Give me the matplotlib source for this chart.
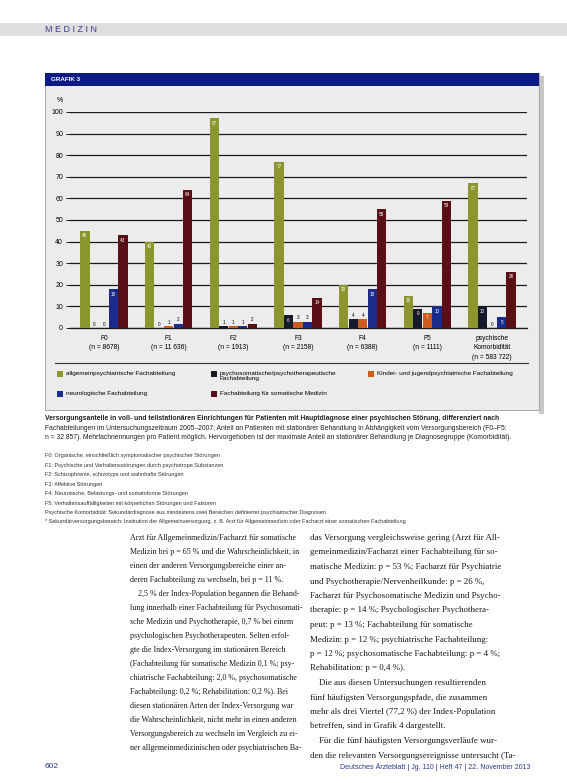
import matplotlib
matplotlib.use('Agg')
import matplotlib.pyplot as plt
import numpy as np
from matplotlib.patches import Rectangle

# Data
groups = ['F0\n(n = 8678)', 'F1\n(n = 11 636)', 'F2\n(n = 1913)', 'F3\n(n = 2158)',
          'F4\n(n = 6388)', 'F5\n(n = 1111)', 'psychische\nKomorbidität\n(n = 583 722)']
series_names = ['allgemeinpsychiatrische Fachabteilung',
                'psychosomatische/psychotherapeutische\nFachabteilung',
                'Kinder- und jugendpsychiatrische Fachabteilung',
                'neurologische Fachabteilung',
                'Fachabteilung für somatische Medizin']
allgemein = [45, 40, 97, 77, 20, 15, 67]
psychosom = [0, 0, 1, 6, 4, 9, 10]
kinder = [0, 1, 1, 3, 4, 7, 0]
neuro = [18, 2, 1, 3, 18, 10, 5]
somatisch = [43, 64, 2, 14, 55, 59, 26]
yticks = [0, 10, 20, 30, 40, 50, 60, 70, 80, 90, 100]

colors = ['#8c962e', '#161a2a', '#cf5a1c', '#1c2a8c', '#5a0f16']

W, H = 567, 783


def fx(x):
    return x / W


def fy(y):
    return 1 - y / H


fig = plt.figure(figsize=(W / 100, H / 100), dpi=100)
fig.patch.set_facecolor('white')

# page header
fig.patches.append(Rectangle((0, fy(36)), 1, 13 / H, transform=fig.transFigure,
                             facecolor='#dedede', edgecolor='none', zorder=-5))
fig.text(fx(45), fy(30), 'M E D I Z I N', fontsize=6.5, color='#3b3b8c',
         family='Liberation Sans', va='center')

# chart box
fig.patches.append(Rectangle((fx(539), fy(414)), 5 / W, 338 / H, transform=fig.transFigure,
                             facecolor='#c8c8c8', edgecolor='none', zorder=-5))
fig.patches.append(Rectangle((fx(45), fy(410)), 494 / W, 337 / H, transform=fig.transFigure,
                             facecolor='#ececec', edgecolor='#9a9a9a', lw=0.6, zorder=-4))
fig.patches.append(Rectangle((fx(45), fy(86)), 494 / W, 13 / H, transform=fig.transFigure,
                             facecolor='#0c1a86', edgecolor='none', zorder=-3))
fig.text(fx(51), fy(79.5), 'GRAFIK 3', fontsize=4.5, color='white', weight='bold',
         family='Liberation Sans', va='center')

ax = fig.add_axes([fx(70), fy(328), 457 / W, 216 / H])
ax.set_zorder(5)
ax.set_facecolor('none')
x = np.arange(len(groups))
bw = 0.147
series = [allgemein, psychosom, kinder, neuro, somatisch]
for i, (vals, c) in enumerate(zip(series, colors)):
    pos = x + (i - 2) * bw
    ax.bar(pos, vals, width=bw * 0.97, color=c, zorder=3)
    for p, v in zip(pos, vals):
        if v >= 5:
            ax.text(p, v - 1.2, str(v), ha='center', va='top', fontsize=3.3,
                    color='white', family='Liberation Sans', zorder=4)
        else:
            ax.text(p, v + 0.6, str(v), ha='center', va='bottom', fontsize=3.3,
                    color='black', family='Liberation Sans', zorder=4)

ax.set_ylim(0, 100)
ax.set_xlim(-0.525, 6.54)
ax.set_yticks(yticks)
ax.set_yticklabels([str(t) for t in yticks], fontsize=5, family='Liberation Sans')
ax.yaxis.grid(True, color='#1a1a1a', lw=0.9, zorder=1)
ax.set_axisbelow(True)
ax.tick_params(axis='y', length=3, width=0.6, pad=2)
ax.set_xticks(x)
ax.set_xticklabels(groups, fontsize=4.8, family='Liberation Sans', linespacing=1.5)
ax.tick_params(axis='x', length=0, pad=5)
for s in ['top', 'right', 'left']:
    ax.spines[s].set_visible(False)
ax.spines['bottom'].set_color('#1a1a1a')
ax.spines['bottom'].set_linewidth(0.9)
fig.text(fx(57), fy(101), '%', fontsize=5, family='Liberation Sans', va='center')

# separator and legend
fig.lines.append(plt.Line2D([fx(55), fx(528)], [fy(363), fy(363)], transform=fig.transFigure,
                            color='#333333', lw=0.8))
leg_pos = [(57, 374), (211, 374), (368, 374), (57, 394), (211, 394)]
for (lx, ly), name, c in zip(leg_pos, series_names, colors):
    fig.patches.append(Rectangle((fx(lx), fy(ly + 3)), 6 / W, 6 / H, transform=fig.transFigure,
                                 facecolor=c, edgecolor='none'))
    fig.text(fx(lx + 9), fy(ly - 3) if '\n' in name else fy(ly), name, fontsize=4.6,
             family='Liberation Sans', va='top' if '\n' in name else 'center', linespacing=1.1)

# caption
cap = [
    ('Versorgungsanteile in voll- und teilstationären Einrichtungen für Patienten mit Hauptdiagnose einer psychischen Störung, differenziert nach', 'bold'),
    ('Fachabteilungen im Untersuchungszeitraum 2005–2007; Anteil an Patienten mit stationärer Behandlung in Abhängigkeit vom Versorgungsbereich (F0–F5:', 'normal'),
    ('n = 32 857). Mehrfachnennungen pro Patient möglich. Hervorgehoben ist der maximale Anteil an stationärer Behandlung je Diagnosegruppe (Komorbidität).', 'normal'),
]
for k, (t, w) in enumerate(cap):
    fig.text(fx(45), fy(418 + k * 10), t, fontsize=4.9, weight=w, family='Liberation Sans',
             va='center', color='#222222')

notes = [
    'F0: Organische, einschließlich symptomatischer psychischer Störungen',
    'F1: Psychische und Verhaltensstörungen durch psychotrope Substanzen',
    'F2: Schizophrenie, schizotype und wahnhafte Störungen',
    'F3: Affektive Störungen',
    'F4: Neurotische, Belastungs- und somatoforme Störungen',
    'F5: Verhaltensauffälligkeiten mit körperlichen Störungen und Faktoren',
    'Psychische Komorbidität: Sekundärdiagnose aus mindestens zwei Bereichen definierter psychiatrischer Diagnosen',
    '* Sekundärversorgungsbereich: Institution der Allgemeinversorgung, z. B. Arzt für Allgemeinmedizin oder Facharzt einer somatischen Fachabteilung',
]
for k, t in enumerate(notes):
    fig.text(fx(45), fy(456 + k * 9.4), t, fontsize=4.0, family='Liberation Sans',
             va='center', color='#333333')

# body text
left_col = [
    'Arzt für Allgemeinmedizin/Facharzt für somatische',
    'Medizin bei p = 65 % und die Wahrscheinlichkeit, in',
    'einen der anderen Versorgungsbereiche einer an-',
    'deren Fachabteilung zu wechseln, bei p = 11 %.',
    '    2,5 % der Index-Population begannen die Behand-',
    'lung innerhalb einer Fachabteilung für Psychosomati-',
    'sche Medizin und Psychotherapie, 0,7 % bei einem',
    'psychologischen Psychotherapeuten. Selten erfol-',
    'gte die Index-Versorgung im stationären Bereich',
    '(Fachabteilung für somatische Medizin 0,1 %; psy-',
    'chiatrische Fachabteilung: 2,0 %, psychosomatische',
    'Fachabteilung: 0,2 %; Rehabilitation: 0,2 %). Bei',
    'diesen stationären Arten der Index-Versorgung war',
    'die Wahrscheinlichkeit, nicht mehr in einen anderen',
    'Versorgungsbereich zu wechseln im Vergleich zu ei-',
    'ner allgemeinmedizinischen oder psychiatrischen Ba-',
]
right_col = [
    'das Versorgung vergleichsweise gering (Arzt für All-',
    'gemeinmedizin/Facharzt einer Fachabteilung für so-',
    'matische Medizin: p = 53 %; Facharzt für Psychiatrie',
    'und Psychotherapie/Nervenheilkunde: p = 26 %,',
    'Facharzt für Psychosomatische Medizin und Psycho-',
    'therapie: p = 14 %; Psychologischer Psychothera-',
    'peut: p = 13 %; Fachabteilung für somatische',
    'Medizin: p = 12 %; psychiatrische Fachabteilung:',
    'p = 12 %; psychosomatische Fachabteilung: p = 4 %;',
    'Rehabilitation: p = 0,4 %).',
    '    Die aus diesen Untersuchungen resultierenden',
    'fünf häufigsten Versorgungspfade, die zusammen',
    'mehr als drei Viertel (77,2 %) der Index-Population',
    'betreffen, sind in Grafik 4 dargestellt.',
    '    Für die fünf häufigsten Versorgungsverläufe wur-',
    'den die relevanten Versorgungsereignisse untersucht (Ta-',
]
for k, t in enumerate(left_col):
    fig.text(fx(130), fy(538 + k * 14.0), t, fontsize=5.8, family='Liberation Serif',
             va='center', color='#1a1a1a')
for k, t in enumerate(right_col):
    fig.text(fx(310), fy(538 + k * 14.5), t, fontsize=6.4, family='Liberation Serif',
             va='center', color='#1a1a1a')

# footer
fig.text(fx(45), fy(767), '602', fontsize=6, family='Liberation Sans', color='#2b3a8c', va='center')
fig.text(fx(530), fy(767), 'Deutsches Ärzteblatt | Jg. 110 | Heft 47 | 22. November 2013',
         fontsize=5, family='Liberation Sans', color='#2b3a8c', va='center', ha='right')

fig.savefig('out.png', dpi=100)
